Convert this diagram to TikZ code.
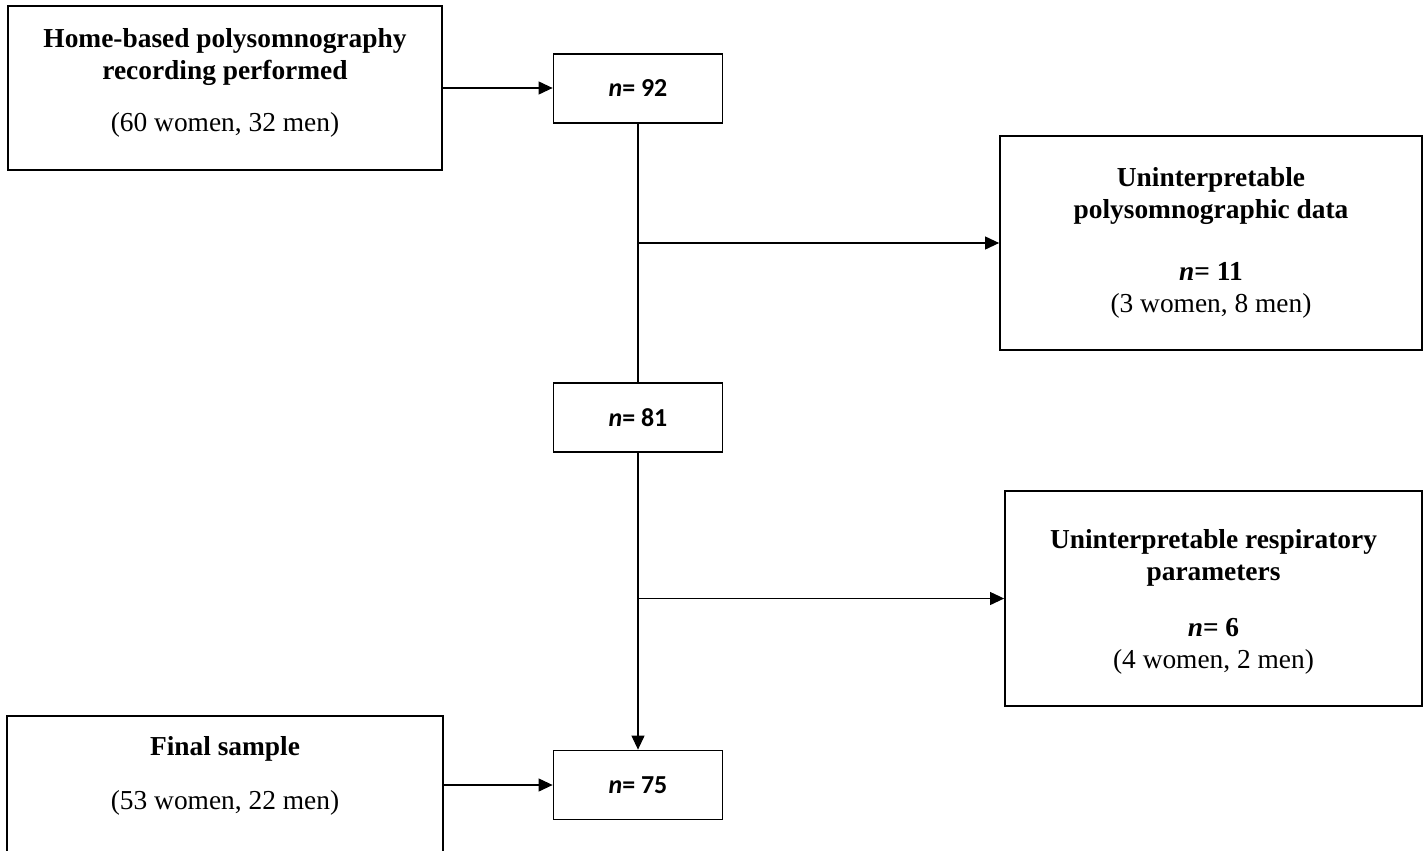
\documentclass[tikz,border=0pt]{standalone}
\usepackage{fontspec}
\setmainfont{Liberation Serif}
\newfontfamily\countfont{Carlito}
\usetikzlibrary{arrows.meta}
\definecolor{boxColor}{HTML}{000000}
\definecolor{linkColor}{HTML}{000000}
\def\textA{\textbf{Home-based polysomnography}\\\textbf{recording performed}\\[21bp](60 women, 32 men)\rule[-16bp]{0pt}{0pt}}
\def\textB{\textbf{Uninterpretable}\\\textbf{polysomnographic data}\\[30bp]\textbf{\textit{n}= 11}\\(3 women, 8 men)}
\def\textC{\rule{0pt}{26bp}\textbf{Uninterpretable respiratory}\\\textbf{parameters}\\[24bp]\textbf{\textit{n}= 6}\\(4 women, 2 men)}
\def\textD{\textbf{Final sample}\\[22bp](53 women, 22 men)}
\tikzset{
  flowbox/.style={draw=boxColor, line width=1.8bp, inner sep=0pt, align=center,
    font=\fontsize{27.5}{32}\selectfont},
  countbox/.style={draw=boxColor, line width=1.8bp, inner sep=0pt,
    minimum width=169bp, minimum height=69bp,
    font=\countfont\bfseries\fontsize{26}{30}\selectfont},
  link/.style={color=linkColor, line width=1.1bp},
  arrow/.style={link, -{Triangle[length=14bp,width=13bp]}}
}

\begin{document}
\begin{tikzpicture}[x=1bp,y=-1bp]

% page
\clip (0,0) rectangle (1423,850);
\fill[white] (0,0) rectangle (1423,850);

% box layer
\begin{scope}
\node[flowbox, minimum width=434bp, minimum height=164bp] (home) at (225,88) {\textA};
\node[countbox] (n92) at (638,88.5) {\textit{n}= 92};
\node[flowbox, minimum width=422bp, minimum height=214bp] (unpsg) at (1211,243) {\textB};
\node[countbox] (n81) at (638,417.5) {\textit{n}= 81};
\node[flowbox, minimum width=417bp, minimum height=215bp] (unresp) at (1213.5,598.5) {\textC};
\node[countbox] (n75) at (638,785) {\textit{n}= 75};
\node[flowbox, draw=none, minimum width=434bp, minimum height=118bp, anchor=north] (final) at (225,716) {\textD};
\draw[draw=boxColor, line width=1.8bp] (final.north west) ++(0,200) -- (final.north west)
  -- (final.north east) -- ++(0,200);
\end{scope}

% link layer
\begin{scope}
\draw[arrow] (home.east) -- (home.east -| n92.west);
\draw[link] (n92.south) -- (n81.north);
\draw[arrow] (n92.south |- unpsg.west) -- (unpsg.west);
\draw[arrow] (n81.south) -- (n75.north);
\draw[arrow] (n81.south |- unresp.west) -- (unresp.west);
\draw[arrow] (final.east |- n75.west) -- (n75.west);
\end{scope}

\end{tikzpicture}
\end{document}
